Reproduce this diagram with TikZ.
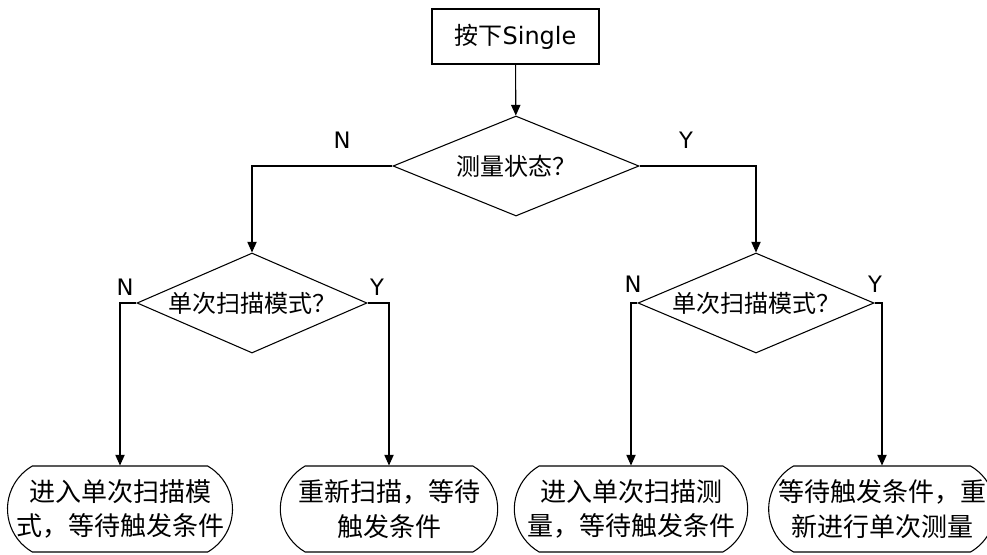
\documentclass[tikz,border=0pt]{standalone}
\usepackage{fontspec}
\setmainfont{DejaVu Sans}
\newfontfamily\cjk{Noto Sans CJK SC}
\usetikzlibrary{arrows.meta,shapes.geometric,shapes.misc}

\begin{document}
\begin{tikzpicture}[x=0.75pt,y=-0.75pt,
    box/.style={draw, line width=0.8pt, inner sep=0pt, font=\fontsize{18}{22}\selectfont},
    decision/.style={box, diamond, minimum height=75pt, font=\cjk\fontsize{18}{22}\selectfont},
    ending/.style={box, rounded rectangle, rounded rectangle arc length=120, minimum height=64.5pt, align=center, font=\cjk\fontsize{19.5}{26}\selectfont},
    arr/.style={-{Triangle[length=8pt,width=7pt]}, line width=0.8pt},
    yn/.style={font=\fontsize{17}{20}\selectfont}]
    \useasboundingbox (0,0) rectangle (987,554);

    % Start and first decision
    \node[box, minimum width=125.25pt, minimum height=41.25pt] (press) at (515.5,36.5) {{\cjk 按下}Single};
    \node[decision, minimum width=184.5pt] (state) at (516,166) {\makebox[0pt]{测量状态？}};

    % Second level decisions
    \node[decision, minimum width=172.5pt] (modeL) at (252,303) {\makebox[0pt]{单次扫描模式？}};
    \node[decision, minimum width=177pt] (modeR) at (756,303) {\makebox[0pt]{单次扫描模式？}};

    % Results
    \node[ending, minimum width=168.75pt] (enterScan) at (120,509) {\makebox[0pt]{进入单次扫描模}\\\makebox[0pt]{式，等待触发条件}};
    \node[ending, minimum width=163pt] (rescan) at (389,509) {\makebox[0pt]{重新扫描，等待}\\\makebox[0pt]{触发条件}};
    \node[ending, minimum width=175pt] (enterMeas) at (631,509) {\makebox[0pt]{进入单次扫描测}\\\makebox[0pt]{量，等待触发条件}};
    \node[ending, minimum width=170pt] (remeas) at (882,509) {\makebox[0pt]{等待触发条件，重}\\\makebox[0pt]{新进行单次测量}};

    % N / Y labels
    \node[yn] (stateN) at (342,140) {N};
    \node[yn] (stateY) at (686,140) {Y};
    \node[yn] (modeLN) at (125,287) {N};
    \node[yn] (modeLY) at (377,287) {Y};
    \node[yn] (modeRN) at (633,284) {N};
    \node[yn] (modeRY) at (875,284) {Y};

    \draw[arr] (press) -- (state);
    \draw[arr] (state.west) -| (modeL.north);
    \draw[arr] (state.east) -| (modeR.north);
    \draw[arr] (modeL.west) -| (enterScan.north);
    \draw[arr] (modeL.east) -| (rescan.north);
    \draw[arr] (modeR.west) -| (enterMeas.north);
    \draw[arr] (modeR.east) -| (remeas.north);
\end{tikzpicture}
\end{document}
